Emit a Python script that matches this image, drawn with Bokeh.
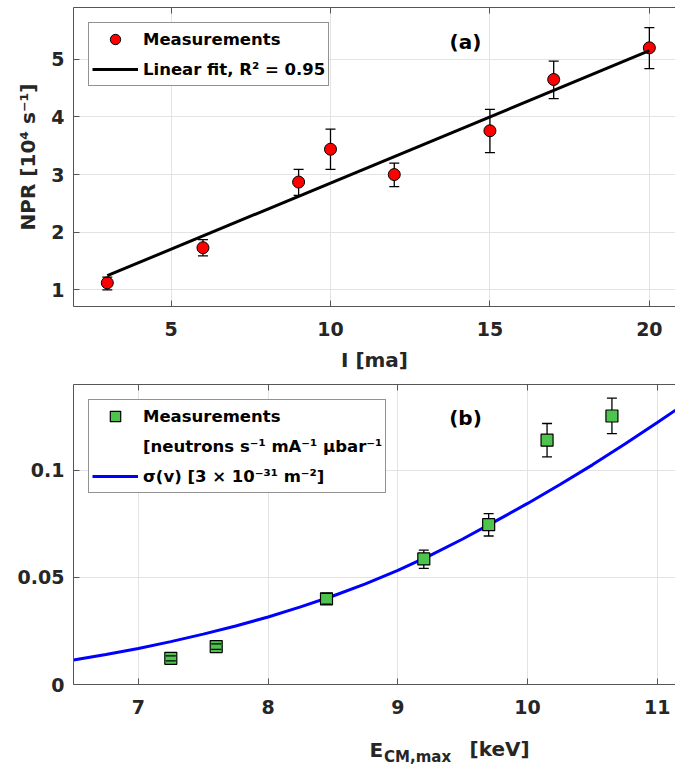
from bokeh.plotting import figure
from bokeh.layouts import column
from bokeh.models import (Range1d, FixedTicker, LinearAxis, Legend, LegendItem,
                          Label, CustomJSTickFormatter)
from bokeh.embed import file_html
from bokeh.resources import INLINE

# ---------------- data: panel (a) ----------------
current_ma = [3, 6, 9, 10, 12, 15, 17, 20]
npr = [1.12, 1.73, 2.87, 3.44, 3.00, 3.76, 4.65, 5.20]
npr_low = [1.00, 1.59, 2.64, 3.09, 2.79, 3.38, 4.32, 4.84]
npr_high = [1.22, 1.87, 3.09, 3.79, 3.20, 4.13, 4.97, 5.55]
fit_current = [3, 20]
fit_npr = [1.245, 5.15]
a_xticks = [5, 10, 15, 20]
a_yticks = [1, 2, 3, 4, 5]

# ---------------- data: panel (b) ----------------
energy_kev = [7.25, 7.60, 8.45, 9.20, 9.70, 10.15, 10.65]
rate = [0.0122, 0.0177, 0.0400, 0.0586, 0.0746, 0.1140, 0.1253]
rate_low = [0.0110, 0.0164, 0.0375, 0.0542, 0.0693, 0.1062, 0.1171]
rate_high = [0.0134, 0.0190, 0.0425, 0.0627, 0.0797, 0.1218, 0.1336]
sigma_energy = [6.50, 6.75, 7.00, 7.25, 7.50, 7.75, 8.00, 8.25, 8.50, 8.75, 9.00,
                9.25, 9.50, 9.75, 10.00, 10.25, 10.50, 10.75, 11.00, 11.14]
sigma_value = [0.0114, 0.0140, 0.0168, 0.0200, 0.0235, 0.0273, 0.0315, 0.0362,
               0.0413, 0.0470, 0.0533, 0.0603, 0.0679, 0.0761, 0.0845, 0.0933,
               0.1025, 0.1122, 0.1223, 0.1280]
b_xticks = [7, 8, 9, 10, 11]
b_yticks = [0, 0.05, 0.1]

NAN = [float("nan")]  # renderer used only for a blank legend row

FONT = "DejaVu Sans"
TXT = "#262626"
AXC = "#555555"


def style_axis(ax, font_size):
    ax.axis_line_color = AXC
    ax.axis_line_width = 1
    ax.major_tick_line_color = AXC
    ax.major_tick_line_width = 1
    ax.major_tick_in = 6
    ax.major_tick_out = 0
    ax.minor_tick_line_color = None
    ax.major_label_text_font = FONT
    ax.major_label_text_font_style = "bold"
    ax.major_label_text_font_size = font_size
    ax.major_label_text_color = TXT
    ax.axis_label_text_font = FONT
    ax.axis_label_text_font_style = "bold"
    ax.axis_label_text_font_size = "20px"
    ax.axis_label_text_color = TXT


def style(p, xticks, yticks):
    p.outline_line_color = None
    bx = p.below[0]
    ly = p.left[0]
    bx.ticker = FixedTicker(ticks=xticks)
    ly.ticker = FixedTicker(ticks=yticks)
    top = LinearAxis(ticker=FixedTicker(ticks=xticks), axis_label=None)
    p.add_layout(top, "above")
    style_axis(bx, "19px")
    style_axis(ly, "19px")
    style_axis(top, "1px")
    top.major_label_text_color = None
    top.major_label_standoff = 0
    bx.major_label_standoff = 15
    bx.axis_label_standoff = 9
    ly.major_label_standoff = 9
    ly.axis_label_standoff = 8
    p.xgrid.grid_line_color = "#e3e3e3"
    p.ygrid.grid_line_color = "#e3e3e3"
    return bx, ly


def make_legend(p, items):
    leg = Legend(items=items, location="top_left", margin=15, padding=3, spacing=4,
                 glyph_width=46, glyph_height=26, label_height=26, label_standoff=5,
                 label_text_font=FONT, label_text_font_style="bold",
                 label_text_font_size="16.5px", label_text_color="black",
                 border_line_color="#262626", border_line_width=1,
                 background_fill_color="white", background_fill_alpha=1)
    p.add_layout(leg)


def panel_label(p, text, y):
    p.add_layout(Label(x=392, y=y, x_units="screen", y_units="screen", text=text,
                       text_font=FONT, text_font_style="bold", text_font_size="20px",
                       text_color="black", text_align="center", text_baseline="middle"))


# ---------------- panel (a) ----------------
p1 = figure(width=675, height=378, output_backend="svg", toolbar_location=None,
            x_range=Range1d(1.94, 20.82), y_range=Range1d(0.71, 5.9),
            min_border_left=73, min_border_right=0, min_border_top=7,
            min_border_bottom=72,
            x_axis_label="I [ma]", y_axis_label="NPR [10⁴ s⁻¹]")
style(p1, a_xticks, a_yticks)

p1.segment(x0=current_ma, y0=npr_low, x1=current_ma, y1=npr_high,
           line_color="black", line_width=1.3)
pts_a = p1.scatter(x=current_ma, y=npr, marker="circle", size=12,
                   fill_color="#ff0000", line_color="black", line_width=1)
p1.scatter(x=current_ma, y=npr_low, marker="dash", size=10, line_color="black", line_width=1.3)
p1.scatter(x=current_ma, y=npr_high, marker="dash", size=10, line_color="black", line_width=1.3)
fit_a = p1.line(x=fit_current, y=fit_npr, line_color="black", line_width=3)

make_legend(p1, [
    LegendItem(label="Measurements", renderers=[pts_a]),
    LegendItem(label="Linear fit, R² = 0.95", renderers=[fit_a]),
])
panel_label(p1, "(a)", 265)

# ---------------- panel (b) ----------------
p2 = figure(width=675, height=344, output_backend="svg", toolbar_location=None,
            x_range=Range1d(6.5, 11.14), y_range=Range1d(0, 0.14),
            min_border_left=73, min_border_right=0, min_border_top=6,
            min_border_bottom=38)
style(p2, b_xticks, b_yticks)
p2.left[0].formatter = CustomJSTickFormatter(code="return tick.toString()")

curve_b = p2.line(x=sigma_energy, y=sigma_value, line_color="#0000ff", line_width=3)
p2.segment(x0=energy_kev, y0=rate_low, x1=energy_kev, y1=rate_high,
           line_color="black", line_width=1.3)
pts_b = p2.scatter(x=energy_kev, y=rate, marker="square", size=12,
                   fill_color="#4dc44d", line_color="black", line_width=1.2)
p2.scatter(x=energy_kev, y=rate_low, marker="dash", size=10, line_color="black", line_width=1.3)
p2.scatter(x=energy_kev, y=rate_high, marker="dash", size=10, line_color="black", line_width=1.3)
blank_b = p2.line(x=NAN, y=NAN, line_alpha=0)

make_legend(p2, [
    LegendItem(label="Measurements", renderers=[pts_b]),
    LegendItem(label="[neutrons s⁻¹ mA⁻¹ μbar⁻¹", renderers=[blank_b]),
    LegendItem(label="σ(v) [3 × 10⁻³¹ m⁻²]", renderers=[curve_b]),
])
panel_label(p2, "(b)", 267)

# ---------------- x-axis title of panel (b), with subscript ----------------
p3 = figure(width=675, height=45, output_backend="svg", toolbar_location=None,
            x_axis_location=None, y_axis_location=None,
            x_range=Range1d(0, 1), y_range=Range1d(0, 1), min_border=0)
p3.outline_line_color = None
p3.xgrid.visible = False
p3.ygrid.visible = False
lab_kw = dict(x_units="screen", y_units="screen", text_font=FONT,
              text_font_style="bold", text_color=TXT, text_baseline="alphabetic",
              text_align="left")
p3.add_layout(Label(x=296, y=18, text="E", text_font_size="20px", **lab_kw))
p3.add_layout(Label(x=310.5, y=11, text="CM,max", text_font_size="15px", **lab_kw))
p3.add_layout(Label(x=396, y=19, text="[keV]", text_font_size="20px", **lab_kw))

layout = column(p1, p2, p3, spacing=0)
open("out.html", "w").write(file_html(layout, INLINE))
